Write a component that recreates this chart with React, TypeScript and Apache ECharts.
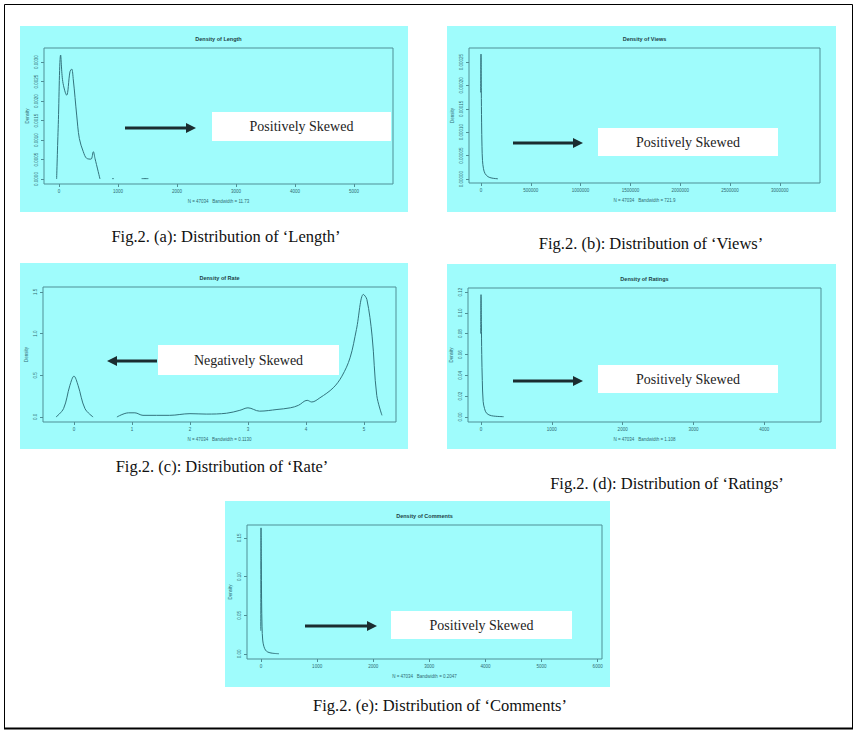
import React, { useEffect, useRef } from "react";
import * as echarts from "echarts";

// ---------- DATA ----------
// Density curves: [x, density] (null = gap in the drawn line)
const lengthCurve: [number, number | null][] = [
  [-40, 0], [-12, 0.0014], [28, 0.00318], [64, 0.0025], [130, 0.00215], [186, 0.00275],
  [215, 0.00282], [243, 0.00254], [300, 0.00164], [345, 0.00104], [412, 0.0007],
  [469, 0.00053], [542, 0.00051], [582, 0.0007], [610, 0.00053], [695, 0],
  [700, null], [900, 0.00001], [930, 0.00001], [940, null], [1400, 0.00001], [1515, 0.00001],
];
const viewsCurve: [number, number][] = [
  [-3000, 0.000185], [0, 0.000267], [3000, 0.00019], [6000, 0.00012], [10000, 0.00007],
  [15000, 0.00004], [25000, 0.000022], [40000, 0.000012], [70000, 0.000005],
  [110000, 0.000002], [170000, 0.0000005],
];
const rateCurve: [number, number | null][] = [
  [-0.31, 0], [-0.18, 0.1], [-0.07, 0.38], [0, 0.49], [0.07, 0.38], [0.19, 0.1], [0.33, 0],
  [0.5, null], [0.74, 0], [0.94, 0.05], [1.05, 0.05], [1.19, 0.02], [1.65, 0.02], [2.0, 0.04],
  [2.28, 0.035], [2.63, 0.045], [2.86, 0.08], [3.0, 0.11], [3.2, 0.07], [3.5, 0.09],
  [3.73, 0.11], [3.87, 0.14], [4.02, 0.2], [4.1, 0.18], [4.24, 0.23], [4.47, 0.35],
  [4.62, 0.49], [4.76, 0.71], [4.87, 1.05], [4.99, 1.47], [5.05, 1.41], [5.14, 0.97],
  [5.22, 0.26], [5.31, 0.02],
];
const ratingsCurve: [number, number][] = [
  [-4, 0.08], [0, 0.1175], [5, 0.09], [10, 0.06], [18, 0.035], [30, 0.015], [50, 0.008],
  [80, 0.0035], [150, 0.0012], [320, 0.0003],
];
const commentsCurve: [number, number][] = [
  [-4, 0.03], [0, 0.163], [5, 0.12], [10, 0.07], [18, 0.035], [30, 0.018], [50, 0.01],
  [80, 0.005], [120, 0.0025], [200, 0.001], [320, 0.0003],
];

// Tick values
const lengthXTicks = [0, 1000, 2000, 3000, 4000, 5000];
const lengthYTicks = [0, 0.0005, 0.001, 0.0015, 0.002, 0.0025, 0.003];
const viewsXTicks = [0, 500000, 1000000, 1500000, 2000000, 2500000, 3000000];
const viewsYTicks = [0, 0.00005, 0.0001, 0.00015, 0.0002, 0.00025];
const rateXTicks = [0, 1, 2, 3, 4, 5];
const rateYTicks = [0, 0.5, 1, 1.5];
const ratingsXTicks = [0, 1000, 2000, 3000, 4000];
const ratingsYTicks = [0, 0.02, 0.04, 0.06, 0.08, 0.1, 0.12];
const commentsXTicks = [0, 1000, 2000, 3000, 4000, 5000, 6000];
const commentsYTicks = [0, 0.05, 0.1, 0.15];

// Texts
const titles = ["Density of Length", "Density of Views", "Density of Rate", "Density of Ratings", "Density of Comments"];
const bandwidthNotes = [
  "N = 47034   Bandwidth = 11.73",
  "N = 47034   Bandwidth = 721.9",
  "N = 47034   Bandwidth = 0.1130",
  "N = 47034   Bandwidth = 1.108",
  "N = 47034   Bandwidth = 0.2047",
];
const skewLabels = ["Positively Skewed", "Positively Skewed", "Negatively Skewed", "Positively Skewed", "Positively Skewed"];
const captions = [
  "Fig.2. (a): Distribution of \u2018Length\u2019",
  "Fig.2. (b): Distribution of \u2018Views\u2019",
  "Fig.2. (c): Distribution of \u2018Rate\u2019",
  "Fig.2. (d): Distribution of \u2018Ratings\u2019",
  "Fig.2. (e): Distribution of \u2018Comments\u2019",
];

// ---------- LAYOUT ----------
type Layout = {
  bg: [number, number, number, number];
  grid: [number, number, number, number];
  x: [number, number];
  y: [number, number];
  yDigits: number;
  arrow: [number, number, number];
  box: [number, number, number, number];
  caption: [number, number];
};
const layouts: Layout[] = [
  { bg: [20, 26, 388, 186], grid: [44, 48, 349, 136], x: [-254, 5661], y: [-0.000128, 0.00336], yDigits: 4,
    arrow: [125, 196, 128], box: [212, 112, 179, 29], caption: [226, 236] },
  { bg: [447, 26, 389, 186], grid: [469, 48, 351, 135], x: [-120482, 3403614], y: [-0.0000085, 0.00028], yDigits: 5,
    arrow: [513, 583, 143], box: [598, 128, 180, 28], caption: [651, 243] },
  { bg: [20, 263, 388, 186], grid: [43, 287, 353, 135], x: [-0.534, 5.552], y: [-0.06, 1.559], yDigits: 1,
    arrow: [157, 107, 361], box: [158, 345, 181, 30], caption: [222, 466] },
  { bg: [447, 264, 389, 185], grid: [468, 288, 353, 134], x: [-184, 4802], y: [-0.0048, 0.1239], yDigits: 2,
    arrow: [513, 583, 381], box: [598, 365, 180, 28], caption: [667, 483] },
  { bg: [225, 501, 385, 186], grid: [247, 525, 355, 134], x: [-250, 6078], y: [-0.0065, 0.1667], yDigits: 2,
    arrow: [305, 377, 626], box: [391, 611, 181, 28], caption: [440, 705] },
];

const curves = [lengthCurve, viewsCurve, rateCurve, ratingsCurve, commentsCurve];
const xTicks = [lengthXTicks, viewsXTicks, rateXTicks, ratingsXTicks, commentsXTicks];
const yTicks = [lengthYTicks, viewsYTicks, rateYTicks, ratingsYTicks, commentsYTicks];

const CYAN = "#9ffcfc";
const CURVE = "#33737d";
const BOX = "#4f8f96";
const LABEL = "#2f6a72";
const SANS = "Liberation Sans";
const SERIF = "Liberation Serif";

export default function App() {
  const ref = useRef<HTMLDivElement>(null);
  useEffect(() => {
    if (!ref.current) return;
    const chart = echarts.init(ref.current, null, { renderer: "svg", width: 860, height: 735 });

    const grids: any[] = [];
    const xAxes: any[] = [];
    const yAxes: any[] = [];
    const series: any[] = [];
    const graphics: any[] = [];

    // outer frame
    graphics.push({ type: "rect", z: 0, shape: { x: 4.5, y: 4.5, width: 848, height: 724 },
      style: { fill: "#ffffff", stroke: "#000", lineWidth: 1 } });
    graphics.push({ type: "line", z: 1, shape: { x1: 4, y1: 728.5, x2: 853, y2: 728.5 },
      style: { stroke: "#000", lineWidth: 2 } });

    layouts.forEach((L, i) => {
      const [gl, gt, gw, gh] = L.grid;
      grids.push({ left: gl, top: gt, width: gw, height: gh, show: true, borderColor: BOX, borderWidth: 1,
        backgroundColor: "transparent", containLabel: false, z: 3 });
      xAxes.push({
        type: "value", gridIndex: i, min: L.x[0], max: L.x[1], z: 6, position: "bottom",
        axisLine: { show: false, onZero: false }, splitLine: { show: false },
        axisTick: { show: true, length: 3, lineStyle: { color: BOX, width: 1 }, customValues: xTicks[i] },
        axisLabel: { show: true, customValues: xTicks[i], fontSize: 4.5, color: LABEL, fontFamily: SANS, margin: 5,
          formatter: (v: number) => String(v) },
        name: bandwidthNotes[i], nameLocation: "middle", nameGap: 15,
        nameTextStyle: { fontSize: 4.5, color: LABEL, fontFamily: SANS },
      });
      yAxes.push({
        type: "value", gridIndex: i, min: L.y[0], max: L.y[1], z: 6, position: "left",
        axisLine: { show: false, onZero: false }, splitLine: { show: false },
        axisTick: { show: true, length: 3, lineStyle: { color: BOX, width: 1 }, customValues: yTicks[i] },
        axisLabel: { show: true, customValues: yTicks[i], fontSize: 4.5, color: LABEL, fontFamily: SANS, margin: 5,
          rotate: 90, formatter: (v: number) => v.toFixed(L.yDigits) },
        name: "Density", nameLocation: "middle", nameGap: 14, nameRotate: 90,
        nameTextStyle: { fontSize: 4.5, color: LABEL, fontFamily: SANS },
      });
      series.push({
        type: "line", xAxisIndex: i, yAxisIndex: i, showSymbol: false, symbol: "none", smooth: 0.35,
        connectNulls: false, z: 4,
        lineStyle: { color: CURVE, width: 1 },
        data: curves[i].map(([x, y]) => (y === null ? [x, "-"] : [x, y])),
      });

      const [bx, by, bw, bh] = L.bg;
      graphics.push({ type: "rect", z: 1, shape: { x: bx, y: by, width: bw, height: bh }, style: { fill: CYAN } });
      graphics.push({ type: "text", z: 10, x: gl + gw / 2, y: gt - 9,
        style: { text: titles[i], align: "center", verticalAlign: "middle", fontSize: 5.5, fontWeight: "bold",
          fontFamily: SANS, fill: "#1d3f46" } });

      const [ax1, ax2, ay] = L.arrow;
      const dir = ax2 > ax1 ? 1 : -1;
      graphics.push({ type: "line", z: 10, shape: { x1: ax1, y1: ay, x2: ax2 - dir * 8, y2: ay },
        style: { stroke: "#1b2d30", lineWidth: 3 } });
      graphics.push({ type: "polygon", z: 10,
        shape: { points: [[ax2, ay], [ax2 - dir * 10, ay - 5], [ax2 - dir * 10, ay + 5]] },
        style: { fill: "#1b2d30" } });
      const [wx, wy, ww, wh] = L.box;
      graphics.push({ type: "rect", z: 10, shape: { x: wx, y: wy, width: ww, height: wh }, style: { fill: "#ffffff" } });
      graphics.push({ type: "text", z: 11, x: wx + ww / 2, y: wy + wh / 2,
        style: { text: skewLabels[i], align: "center", verticalAlign: "middle", fontSize: 14, fontFamily: SERIF,
          font: `14px ${SERIF}`, fill: "#222" } });
      graphics.push({ type: "text", z: 11, x: L.caption[0], y: L.caption[1],
        style: { text: captions[i], align: "center", verticalAlign: "middle", fontSize: 16.5, fontFamily: SERIF,
          font: `16.5px ${SERIF}`, fill: "#111" } });
    });

    chart.setOption({
      animation: false,
      backgroundColor: "#ffffff",
      grid: grids,
      xAxis: xAxes,
      yAxis: yAxes,
      series,
      graphic: { elements: graphics },
    });
    return () => chart.dispose();
  }, []);
  return <div ref={ref} style={{ position: "fixed", left: 0, top: 0, width: 860, height: 735 }} />;
}
